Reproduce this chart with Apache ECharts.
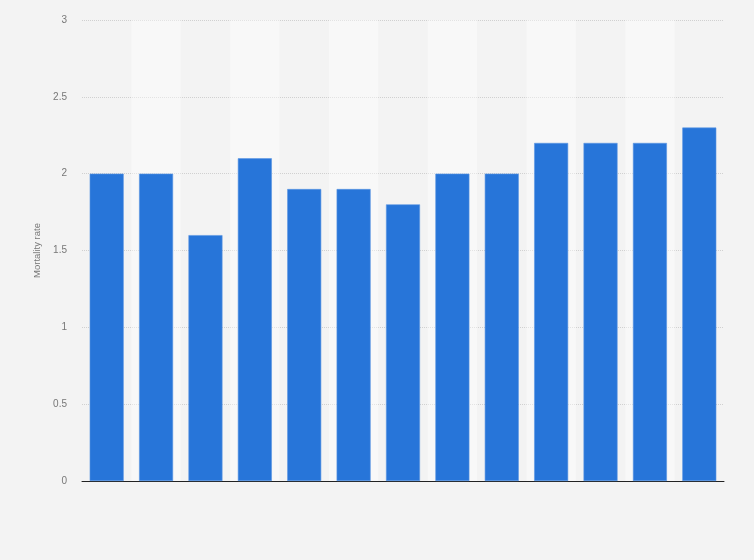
<!DOCTYPE html>
<html>
<head>
<meta charset="utf-8">
<script src="https://cdn.jsdelivr.net/npm/echarts@6/dist/echarts.min.js"></script>
<style>
html, body { margin: 0; padding: 0; background: #f3f3f3; }
#main { width: 754px; height: 560px; }
</style>
</head>
<body>
<div id="main"></div>
<script>
// 数据 (x labels not shown in the picture)
var categories = ['1', '2', '3', '4', '5', '6', '7', '8', '9', '10', '11', '12', '13'];
var mortality = [2.0, 2.0, 1.6, 2.1, 1.9, 1.9, 1.8, 2.0, 2.0, 2.2, 2.2, 2.2, 2.3];
var yTicks = [0, 0.5, 1, 1.5, 2, 2.5, 3];

var myChart = echarts.init(document.getElementById('main'));

var option = {
    backgroundColor: '#f3f3f3',
    animation: false,
    grid: {
        left: 82,
        right: 30,
        top: 20,
        bottom: 79
    },
    xAxis: {
        type: 'category',
        data: categories,
        axisLine: { show: true, lineStyle: { color: '#222', width: 1 } },
        axisTick: { show: false },
        axisLabel: { show: false },
        splitArea: {
            show: true,
            areaStyle: { color: ['rgba(255,255,255,0)', 'rgba(255,255,255,0.4)'] }
        }
    },
    yAxis: {
        type: 'value',
        min: yTicks[0],
        max: yTicks[yTicks.length - 1],
        interval: 0.5,
        name: 'Mortality rate',
        nameLocation: 'middle',
        nameGap: 38,
        nameTextStyle: { color: '#777', fontSize: 9.5, fontFamily: 'Arial, Liberation Sans' },
        axisLine: { show: false },
        axisTick: { show: false },
        axisLabel: {
            color: '#777',
            fontSize: 10,
            margin: 15,
            fontFamily: 'Arial, Liberation Sans'
        },
        splitLine: { lineStyle: { color: '#d0d0d0', type: 'dotted', width: 1 } }
    },
    series: [{
        name: 'Mortality rate',
        type: 'bar',
        data: mortality,
        barWidth: 34,
        itemStyle: {
            color: '#2775d9',
            borderColor: '#5b95e3',
            borderWidth: 0.6
        }
    }]
};

myChart.setOption(option);
</script>
</body>
</html>
